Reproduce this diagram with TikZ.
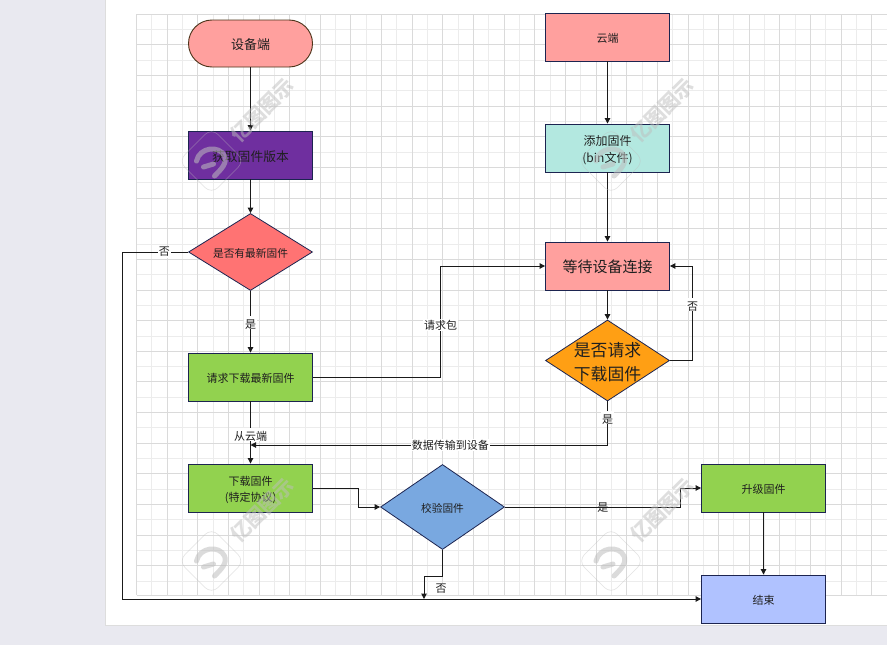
\documentclass[tikz,border=0pt]{standalone}
\usepackage{fontspec}
\setmainfont{Noto Sans CJK SC}
\usetikzlibrary{shapes.geometric,arrows.meta,positioning}
\definecolor{pagebg}{HTML}{E9E9F0}
\definecolor{pageedge}{HTML}{DDDDDD}
\definecolor{gridmajor}{HTML}{DADADA}
\definecolor{gridminor}{HTML}{ECECEC}
\definecolor{edgenavy}{HTML}{1C2450}
\definecolor{linec}{HTML}{1A1A1A}
\definecolor{fpink}{HTML}{FFA09E}
\definecolor{fpurple}{HTML}{6F2F9F}
\definecolor{fred}{HTML}{FF7373}
\definecolor{fgreen}{HTML}{92D24F}
\definecolor{fblue}{HTML}{79A8E0}
\definecolor{fteal}{HTML}{B3E8E0}
\definecolor{forange}{HTML}{FF9F14}
\definecolor{fperi}{HTML}{B0C2FF}
\definecolor{wm}{HTML}{BEBEBE}
\newcommand{\dn}[2][1.2pt]{\raisebox{-#1}[0.88em][0.12em]{#2}}
\tikzset{
  x=1pt,y=-1pt,
  boxnode/.style={draw=edgenavy,line width=0.9pt,minimum width=124pt,minimum height=48pt,inner sep=0pt,align=center,font=\fontsize{11}{16}\selectfont,text=black!88},
  pill/.style={boxnode,rounded corners=23.5pt,minimum height=47pt,draw=black!60!brown,font=\fontsize{13}{17}\selectfont},
  decision/.style={draw=edgenavy,line width=0.8pt,diamond,inner sep=0pt,align=center,font=\fontsize{10.7}{15}\selectfont,text=black!88},
  conn/.style={draw=linec,line width=1pt,-{Triangle[width=5.5pt,length=5.5pt]}},
  lab/.style={fill=white,inner sep=1pt,font=\fontsize{11}{13}\selectfont,text=black!88},
  wmtext/.style={rotate=45,text=wm,opacity=0.5,font=\bfseries\fontsize{20}{20}\selectfont},
}
\newcommand{\wmark}[2]{%
  \begin{scope}[shift={(#1,#2)}]
    \node[wmtext] at (51,-51) {亿图图示};
    \draw[wm,opacity=0.45,line width=0.6pt,rounded corners=9pt] (0,-33) -- (33,0) -- (0,33) -- (-33,0) -- cycle;
    \draw[wm,opacity=0.55,line width=5pt,line cap=round] (-15,0) .. controls (-12,-14) and (8,-16) .. (13,-5) .. controls (16,2) and (10,8) .. (3,15);
    \draw[wm,opacity=0.55,line width=5pt,line cap=round] (-8,6) -- (2,3);
  \end{scope}}
\begin{document}
\begin{tikzpicture}
\useasboundingbox (0,0) rectangle (887,645);
\fill[pagebg] (0,0) rectangle (887,645);
\fill[white,draw=pageedge,line width=1pt] (105.5,-2) rectangle (890,625.5);
% grid
\foreach \i in {0,...,49} {
  \pgfmathsetmacro{\gx}{136.5+15.32*\i}
  \ifodd\i \draw[gridminor,line width=1pt] (\gx,14) -- (\gx,595); \fi
}
\foreach \i in {0,...,37} {
  \pgfmathsetmacro{\gy}{14.3+15.32*\i}
  \ifodd\i \draw[gridminor,line width=1pt] (136.5,\gy) -- (887,\gy); \fi
}
\foreach \i in {0,...,49} {
  \pgfmathsetmacro{\gx}{136.5+15.32*\i}
  \ifodd\i\else \draw[gridmajor,line width=1pt] (\gx,14) -- (\gx,595); \fi
}
\foreach \i in {0,...,37} {
  \pgfmathsetmacro{\gy}{14.3+15.32*\i}
  \ifodd\i\else \draw[gridmajor,line width=1pt] (136.5,\gy) -- (887,\gy); \fi
}
\draw[gridmajor,line width=1pt] (136.5,595) -- (887,595);
% nodes
\node[pill,fill=fpink] (dev) at (250.5,43.5) {\dn{设备端}};
\node[boxnode,fill=fpurple,font=\fontsize{12.8}{17}\selectfont] (getver) at (250.5,155) {\dn{获取固件版本}};
\node[decision,fill=fred,minimum width=124pt,minimum height=77pt,aspect=1.61] (hasnew) at (250.5,252) {\dn{是否有最新固件}};
\node[boxnode,fill=fgreen] (reqdl) at (250.5,377) {\dn{请求下载最新固件}};
\node[boxnode,fill=fgreen] (dl) at (250.5,488) {\dn{下载固件}\\\dn{(特定协议)}};
\node[decision,fill=fblue,minimum width=124pt,minimum height=85pt,aspect=1.46] (verify) at (442.5,507) {\dn{校验固件}};
\node[boxnode,fill=fpink] (cloud) at (607.5,37) {\dn{云端}};
\node[boxnode,fill=fteal,font=\fontsize{12}{17}\selectfont] (addfw) at (607.5,148) {\dn[1.8pt]{添加固件}\\\dn[1.8pt]{(bin文件)}};
\node[boxnode,fill=fpink,font=\fontsize{15}{17}\selectfont] (wait) at (607.5,266) {\dn{等待设备连接}};
\node[decision,fill=forange,minimum width=124pt,minimum height=81pt,aspect=1.53,
  label={[align=center,inner sep=0pt,text=black!88,font=\fontsize{16.8}{24}\selectfont]center:\dn[1.5pt]{是否请求}\\\dn[1.5pt]{下载固件}}] (askdl) at (607.5,360.5) {};
\node[boxnode,fill=fgreen] (upg) at (763.5,488) {\dn{升级固件}};
\node[boxnode,fill=fperi] (fin) at (763.5,599) {\dn{结束}};
% helper coordinates
\coordinate (noBend) at (122,599);
\coordinate (noEnd) at (424,599);
\coordinate (dataEnd) at (250.5,445);
% connectors
\draw[conn] (dev) -- (getver);
\draw[conn] (getver) -- (hasnew);
\draw[conn] (hasnew) -- node[lab,pos=0.5,yshift=-1pt]{\dn{是}} (reqdl);
\draw[conn] (reqdl) -- node[lab,pos=0.52,yshift=-1pt]{\dn{从云端}} (dl);
\draw[conn] (cloud) -- (addfw);
\draw[conn] (addfw) -- (wait);
\draw[conn] (wait) -- (askdl);
\draw[conn] (upg) -- (fin);
\draw[conn] (hasnew.west) -- node[lab,pos=0.36]{否} (122,252) -- (noBend) -- (fin.west);
\draw[conn] (reqdl.east) -- (440.5,377) -- node[lab,pos=0.47]{请求包} (440.5,266) -- (wait.west);
\draw[conn] (askdl.east) -- (692.5,360.5) -- node[lab,pos=0.59]{\dn{否}} (692.5,266) -- (wait.east);
\draw[conn] (askdl.south) -- node[lab,pos=0.38]{\dn{是}} (607.5,445) -- node[lab,pos=0.44]{数据传输到设备} (dataEnd);
\draw[conn] (dl.east) -- (358.5,488) -- (358.5,507) -- (verify.west);
\draw[conn] (verify.east) -- node[pos=0.56,lab,fill=none,yshift=1pt]{\dn{是}} (680,507) -- (680,488) -- (upg.west);
\draw[conn] (verify.south) -- (442.5,576) -- (424,576) -- (noEnd);
\node[lab] (no2) at (441,589) {否};
% watermarks
\wmark{211.5}{161}
\wmark{611}{161}
\wmark{211.5}{561}
\wmark{611}{561}
\end{tikzpicture}
\end{document}
